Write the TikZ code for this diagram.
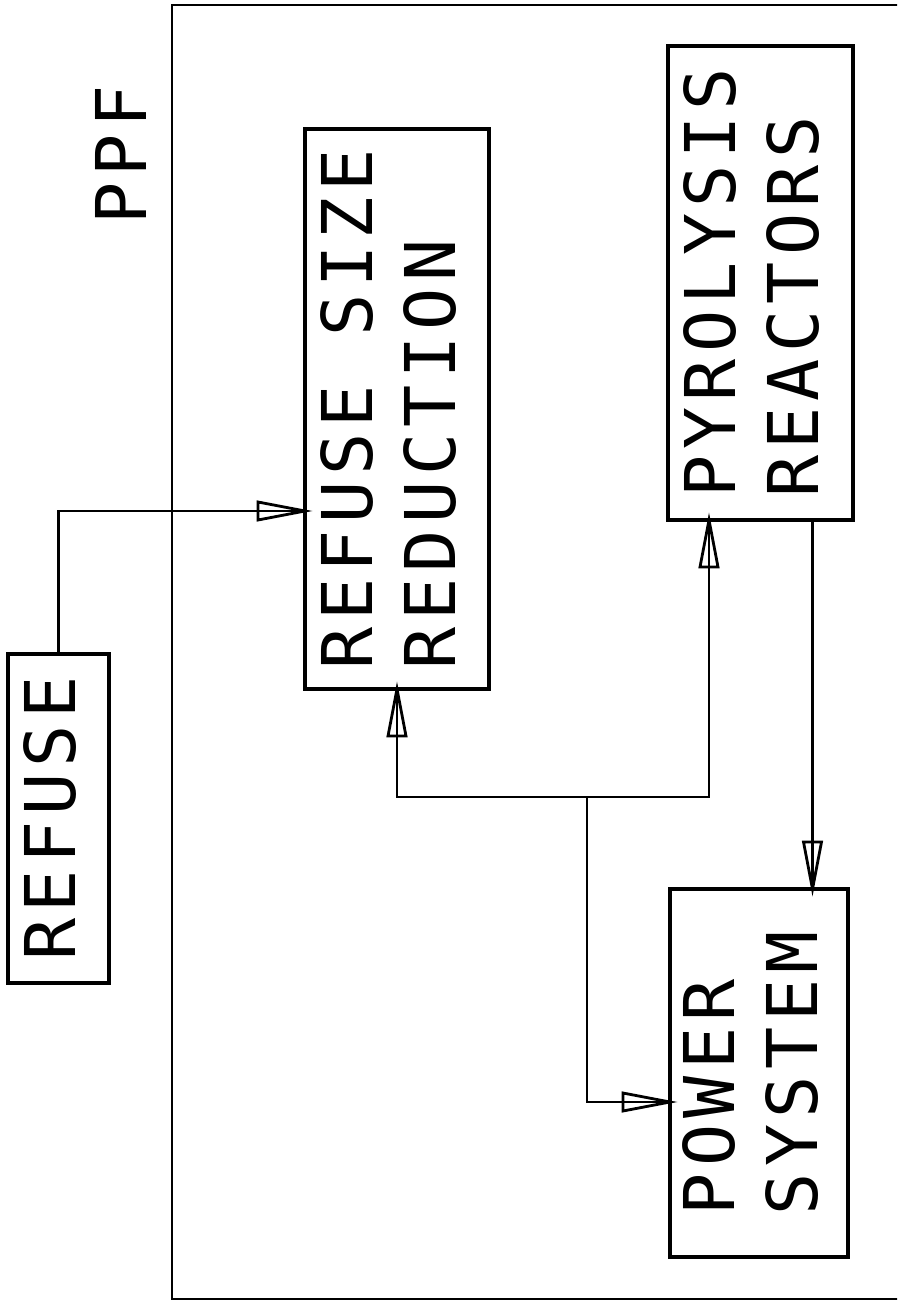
\documentclass[tikz,border=0pt]{standalone}
\usepackage{fontspec}
\newfontfamily\plotfont[LetterSpace=9]{DejaVu Sans Mono}
\usetikzlibrary{decorations.markings,calc}
\newcommand\plotlabel[1]{\rotatebox{90}{\begin{tabular}{@{}l@{}}#1\end{tabular}}}
\begin{document}
\begin{tikzpicture}[x=1pt,y=-1pt,
  plottext/.style={font=\plotfont\fontsize{70}{83}\selectfont},
  blockbox/.style={draw, line width=3.2pt, inner sep=0pt, outer sep=0pt, plottext},
  conn/.style={line width=2.8pt},
  openarrow/.style={postaction={decorate}, decoration={markings, mark=at position 1 with {\draw[line width=2.8pt, line join=miter] (0pt,0pt) -- (-47pt,9pt) -- (-47pt,-9pt) -- cycle;}}}
]
\useasboundingbox (0,0) rectangle (897,1303);
\clip (0,0) rectangle (897,1303);
\node[draw, line width=2.8pt, minimum width=760pt, minimum height=1294pt, anchor=north west, inner sep=0pt, outer sep=0pt] (ppf) at (172,5) {};
\node[plottext, inner sep=0pt] (ppflabel) at (130,155) {\plotlabel{PPF}};
\node[blockbox, minimum width=101pt, minimum height=329pt] (refuse) at (58.5,818.5) {\plotlabel{REFUSE}};
\node[blockbox, minimum width=184pt, minimum height=560pt] (sizebox) at (397,409) {\plotlabel{REFUSE SIZE\\REDUCTION}};
\node[blockbox, minimum width=185pt, minimum height=474pt] (pyro) at (760.5,283) {\plotlabel{PYROLYSIS\\REACTORS}};
\node[blockbox, minimum width=178pt, minimum height=368pt] (power) at (759,1073) {\plotlabel{POWER\\SYSTEM}};
\coordinate (j) at (587,797);
\path ([xshift=52pt]pyro.south) coordinate (pout);
\draw[conn, openarrow] (refuse.north) |- ([yshift=-102pt]sizebox.west);
\draw[conn, openarrow] (j) -| (sizebox.south);
\draw[conn, openarrow] (j) -| ([xshift=-51.5pt]pyro.south);
\draw[conn, openarrow] (j) |- ([yshift=-29pt]power.west);
\draw[conn, openarrow] (pout) -- (pout |- power.north);
\end{tikzpicture}
\end{document}
